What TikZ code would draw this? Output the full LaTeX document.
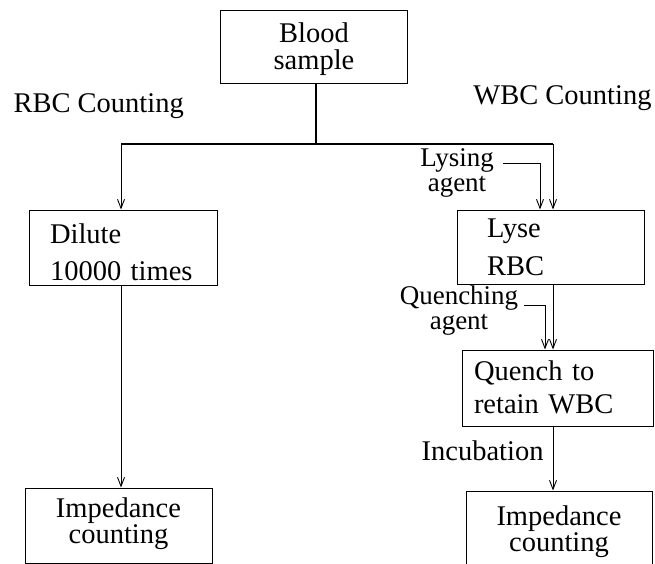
\documentclass[tikz,border=0pt]{standalone}
\usepackage{fontspec}
\setmainfont{Liberation Serif}
\usetikzlibrary{arrows.meta}
\newcommand{\topstrut}[1]{\rule{0pt}{#1pt}}
\newcommand{\botstrut}[1]{\rule[-#1pt]{0pt}{#1pt}}
\begin{document}
\begin{tikzpicture}[x=1pt,y=-1pt,
  line width=1pt,
  arr/.style={-{Straight Barb[length=9pt,width=7pt,line width=0.9pt]}},
  fnt/.style={font=\fontsize{28.5pt}{#1pt}\selectfont},
  sfnt/.style={font=\fontsize{27pt}{#1pt}\selectfont},
  trunk/.style={line width=1.4pt},
  cbox/.style={draw,inner sep=0pt,minimum width=#1,align=center},
  lbox/.style={draw,inner ysep=0pt,align=left},
  lbl/.style={inner sep=0pt,align=center}
]
\path[use as bounding box,clip] (0,0) rectangle (655,564);

% boxes
\node[cbox=187pt,minimum height=73pt,fnt=27] (blood) at (314,47) {\topstrut{26}Blood\\sample\botstrut{8}};
\node[lbox,fnt=37,inner xsep=21pt,text width=146pt,minimum height=75pt] (dilute) at (123,247.5) {\topstrut{33}Dilute\\10000 times\botstrut{5}};
\node[lbox,fnt=38,inner xsep=30pt,text width=127pt,minimum height=74pt] (lyse) at (550.5,247) {\topstrut{23}Lyse\\RBC\botstrut{5}};
\node[lbox,fnt=33,inner xsep=12pt,text width=167pt,minimum height=76pt] (quench) at (557.5,388) {\topstrut{22}Quench to\\retain WBC\botstrut{5}};
\node[cbox=187pt,minimum height=75pt,fnt=26] (imp1) at (118.5,525.5) {\topstrut{23}Impedance\\counting\botstrut{14}};
\node[cbox=186pt,minimum height=80pt,fnt=26] (imp2) at (559,531) {\topstrut{28}Impedance\\counting\botstrut{14}};

% free labels
\node[lbl,fnt=27,anchor=base west] (rbc) at (13,113) {RBC Counting};
\node[lbl,fnt=27,anchor=base east] (wbc) at (652,105) {WBC Counting};
\node[lbl,sfnt=25] (lys) at (457,173) {Lysing\\agent};
\node[lbl,sfnt=25] (qag) at (459,311) {Quenching\\agent};
\node[lbl,fnt=27,anchor=base east] (inc) at (544,460) {Incubation};

% connectors
\coordinate (jl) at (121,144);
\coordinate (jr) at (553,144);
\coordinate (lysend) at (503,164);
\coordinate (qend) at (524,305);
\draw[trunk] (blood.south -| 316,0) -- (316,144);
\draw[trunk] (jl) -- (jr);
\draw[arr] (jl) -- (jl |- dilute.north);
\draw[arr] (jr) -- (jr |- lyse.north);
\draw[arr] (lysend) -| (540,0 |- lyse.north);
\draw[arr] (jr |- lyse.south) -- (jr |- quench.north);
\draw[arr] (qend) -| (545,0 |- quench.north);
\draw[arr] (jl |- dilute.south) -- (jl |- imp1.north);
\draw[arr] (jr |- quench.south) -- (jr |- imp2.north);
\end{tikzpicture}
\end{document}
